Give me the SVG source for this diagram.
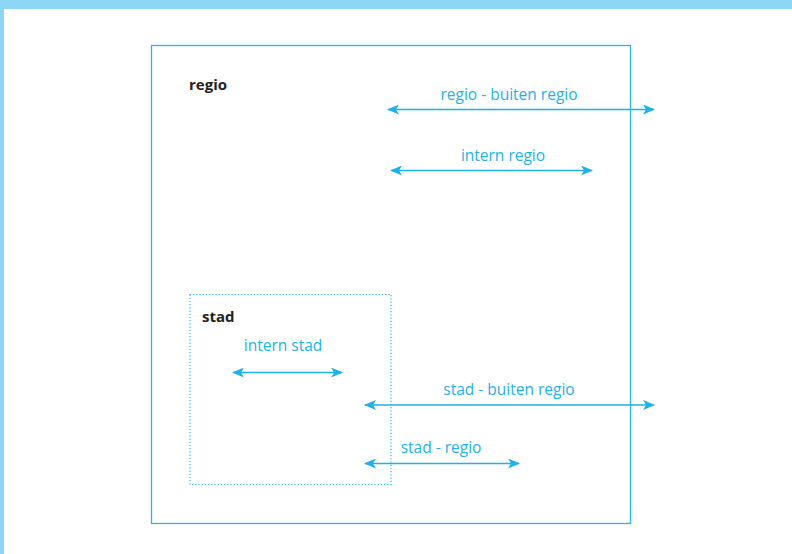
<svg xmlns="http://www.w3.org/2000/svg" width="792" height="554" viewBox="0 0 792 554">
<style>
.lbl{font-family:"Open Sans","Noto Sans",sans-serif;font-size:15.5px;fill:#1FB1E8}
.ttl{font-family:"Open Sans","Noto Sans",sans-serif;font-size:15px;font-weight:bold;fill:#222}
.con{stroke:#1FB1E8;stroke-width:1.5;fill:none;marker-start:url(#ah);marker-end:url(#ah)}
</style>
<defs>
<marker id="ah" viewBox="0 0 12 10" refX="11" refY="5" markerWidth="12" markerHeight="10" markerUnits="userSpaceOnUse" orient="auto-start-reverse">
<path d="M0,0 L12,5 L0,10 L3,5 Z" fill="#1FB1E8"/>
</marker>
</defs>
<rect x="0" y="0" width="792" height="554" fill="#fff"/>
<rect x="0" y="0" width="792" height="9" fill="#8DD6F5"/>
<rect x="0" y="0" width="4" height="554" fill="#8DD6F5"/>
<g id="regio">
<rect x="151.5" y="45.5" width="479" height="478" fill="none" stroke="#29B5E8" stroke-width="1.3"/>
<text class="ttl" x="189" y="90">regio</text>
</g>
<g id="stad">
<rect x="190" y="294.5" width="201" height="190" fill="none" stroke="#29B5E8" stroke-width="1.2" stroke-dasharray="1.2 2"/>
<text class="ttl" x="202" y="322">stad</text>
</g>
<g id="connectors">
<line class="con" x1="388" y1="109.5" x2="654" y2="109.5"/>
<line class="con" x1="391" y1="170.5" x2="592" y2="170.5"/>
<line class="con" x1="233" y1="372.5" x2="342" y2="372.5"/>
<line class="con" x1="365" y1="405" x2="654" y2="405"/>
<line class="con" x1="365" y1="463.5" x2="519" y2="463.5"/>
</g>
<g id="labels">
<text class="lbl" x="509" y="100" text-anchor="middle">regio - buiten regio</text>
<text class="lbl" x="503" y="161" text-anchor="middle">intern regio</text>
<text class="lbl" x="283" y="351" text-anchor="middle">intern stad</text>
<text class="lbl" x="509" y="395" text-anchor="middle">stad - buiten regio</text>
<text class="lbl" x="441" y="453" text-anchor="middle">stad - regio</text>
</g>
</svg>
